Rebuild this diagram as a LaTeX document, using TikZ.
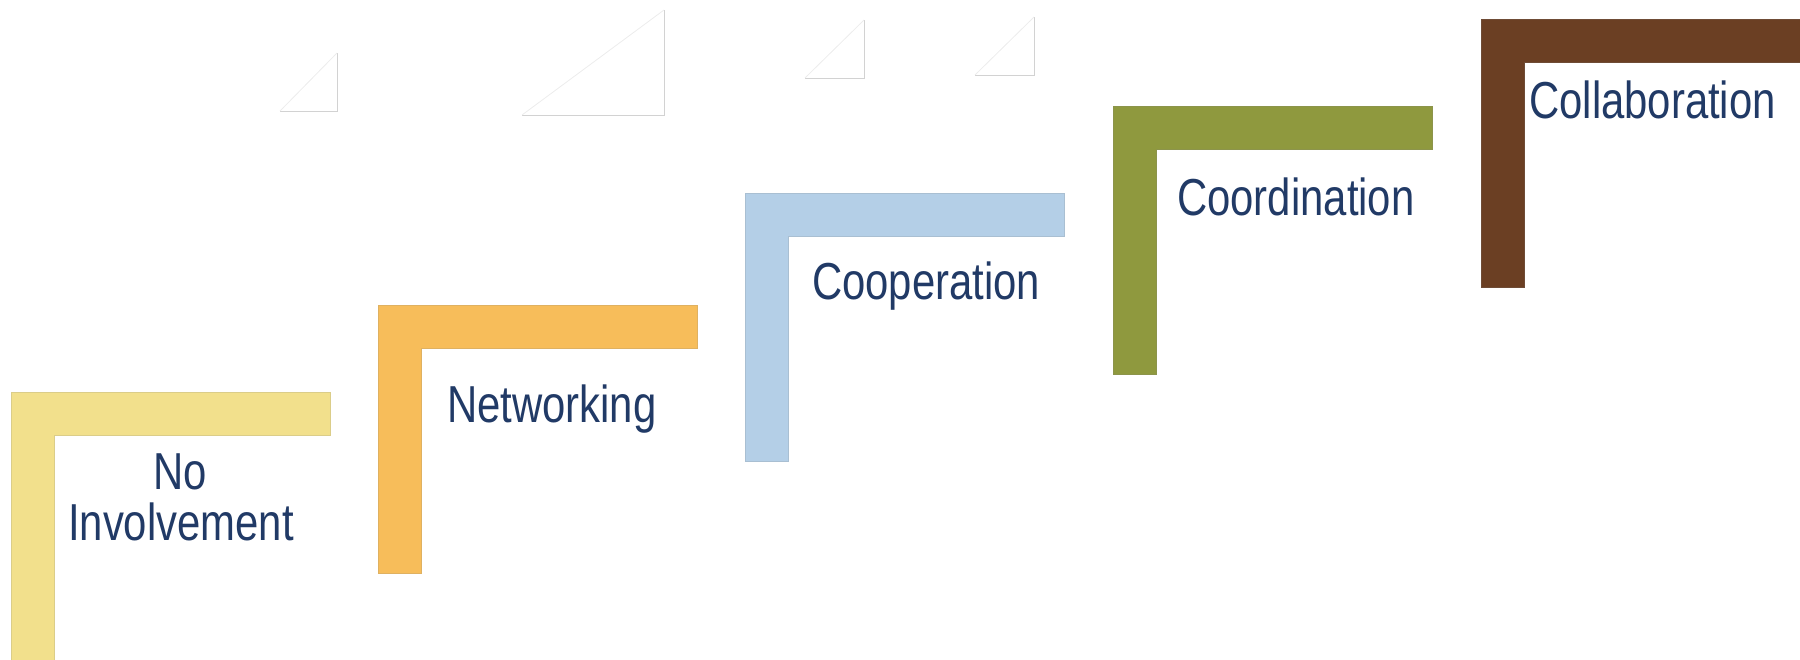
\documentclass[tikz,border=0pt]{standalone}
\usepackage{fontspec}
\newfontfamily\labfont[FakeStretch=0.805]{Liberation Sans}
\definecolor{txt}{HTML}{213A66}
\definecolor{cyel}{HTML}{F2E08C}
\definecolor{cora}{HTML}{F7BD5A}
\definecolor{cblu}{HTML}{B4CFE7}
\definecolor{coli}{HTML}{8F993E}
\definecolor{cbro}{HTML}{6B3F23}
\tikzset{
  stairlabel/.style={anchor=base west, inner sep=0pt, text=txt, font=\labfont\fontsize{52}{51}\selectfont},
  tri/.style={draw=gray!35, line width=0.8pt},
  trih/.style={draw=gray!15, line width=0.8pt},
}
\newcommand{\stairL}[3]{% left, top, colour
  \fill[#3, draw=#3!80!gray, line width=0.6pt]
    (#1,#2) -- ++(319,0) -- ++(0,43) -- ++(-276,0) -- ++(0,225) -- ++(-43,0) -- cycle;}
\begin{document}
\begin{tikzpicture}[x=1pt,y=-1pt]
\useasboundingbox (0,0) rectangle (1800,659);
% faint triangles
\coordinate (t1a) at (280,111); \coordinate (t1b) at (337,111); \coordinate (t1c) at (337,53);
\coordinate (t2a) at (522,115); \coordinate (t2b) at (664,115); \coordinate (t2c) at (664,10);
\coordinate (t3a) at (805,78); \coordinate (t3b) at (864,78); \coordinate (t3c) at (864,20);
\coordinate (t4a) at (975,75); \coordinate (t4b) at (1034,75); \coordinate (t4c) at (1034,17);
\foreach \t in {t1,t2,t3,t4}{
  \draw[tri] (\t a) -- (\t b) -- (\t c);
  \draw[trih] (\t c) -- (\t a);
}
% steps
\stairL{11}{392}{cyel}
\stairL{378}{305}{cora}
\stairL{745}{193}{cblu}
\stairL{1113}{106}{coli}
\stairL{1481}{19}{cbro}
% labels
\node[stairlabel, anchor=base] (no) at (180,489) {No};
\node[stairlabel, anchor=base] (inv) at (181,540) {Involvement};
\node[stairlabel] (net) at (447,422) {Networking};
\node[stairlabel] (coop) at (812,299) {Cooperation};
\node[stairlabel] (coord) at (1177,215) {Coordination};
\node[stairlabel] (coll) at (1529,118) {Collaboration};
\end{tikzpicture}
\end{document}
